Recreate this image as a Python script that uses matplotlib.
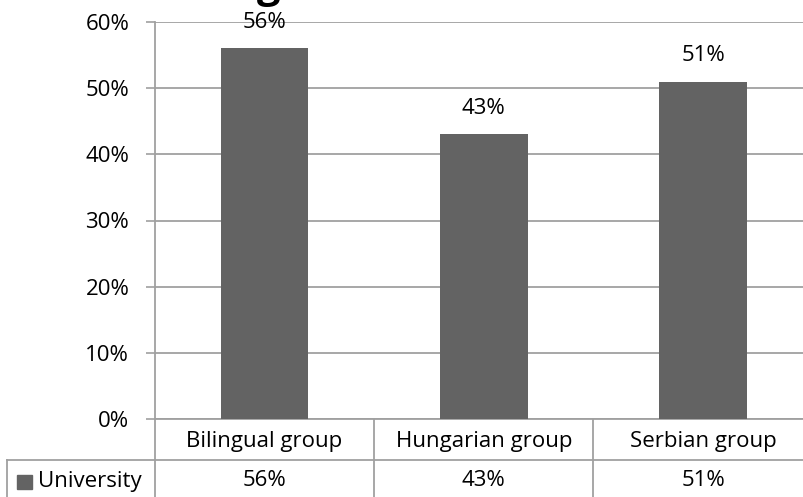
import matplotlib
matplotlib.use("Agg")
import matplotlib.pyplot as plt
from matplotlib.lines import Line2D
from matplotlib.patches import Rectangle
from matplotlib.ticker import FuncFormatter

groups = ["Bilingual group", "Hungarian group", "Serbian group"]
university = [56, 43, 51]
series_name = "University"
yticks = [0, 10, 20, 30, 40, 50, 60]

BAR = "#636363"
GRID = "#a0a0a0"
plt.rcParams["font.family"] = ["Open Sans", "DejaVu Sans"]
plt.rcParams["font.size"] = 16

W, H = 804, 497
fig = plt.figure(figsize=(W / 100, H / 100), dpi=100)
# plot area in pixels: left 155, top 22, bottom 419, column width ~219
left, top, bottom, colw = 155, 22, 419, 219.25
ax = fig.add_axes([left / W, 1 - bottom / H, 3 * colw / W, (bottom - top) / H])

x = range(len(groups))
ax.bar(x, university, width=0.4, color=BAR, zorder=3)
for i, v in zip(x, university):
    ax.annotate(f"{v}%", (i, v), xytext=(0, 18.5), textcoords="offset points",
                ha="center", va="center", zorder=4)

ax.set_xlim(-0.5, 2.5)
ax.set_ylim(0, 60)
ax.set_yticks(yticks)
ax.yaxis.set_major_formatter(FuncFormatter(lambda v, p: f"{v:.0f}%"))
ax.tick_params(axis="y", length=6.5, width=1.2, color=GRID, pad=12)
ax.tick_params(axis="x", length=0, labelbottom=False)
ax.grid(axis="y", color=GRID, linewidth=1.3, zorder=0)
for s in ["top", "right"]:
    ax.spines[s].set_visible(False)
for s in ["left", "bottom"]:
    ax.spines[s].set_color(GRID)
    ax.spines[s].set_linewidth(1.3)

# data table under the axis
rowh = 41 / (bottom - top)
xt = ax.get_xaxis_transform()
for i, g in enumerate(groups):
    ax.text(i, -rowh / 2 - 0.004, g, transform=xt, ha="center", va="center")
    ax.text(i, -1.5 * rowh, f"{university[i]}%", transform=xt, ha="center", va="center")
for b in [-0.5, 0.5, 1.5]:
    ax.add_line(Line2D([b, b], [0, -2.2 * rowh], transform=xt, color=GRID,
                       linewidth=1.3, clip_on=False))
tf = fig.transFigure
fig.add_artist(Line2D([7 / W, 1], [1 - 460 / H] * 2, transform=tf, color=GRID, linewidth=1.3))
fig.add_artist(Line2D([7 / W, 7 / W], [1 - 460 / H, 0], transform=tf, color=GRID, linewidth=1.3))
fig.add_artist(Rectangle((17 / W, 1 - 489 / H), 15 / W, 14 / H, transform=tf, color=BAR))
fig.text(38 / W, 1 - 481 / H, series_name, ha="left", va="center")

# title cut off by the top edge
fig.text(269 / W, 1 + 3 / H, "g", ha="center", va="baseline", fontsize=30, fontweight="bold")

fig.savefig("out.png", dpi=100)
